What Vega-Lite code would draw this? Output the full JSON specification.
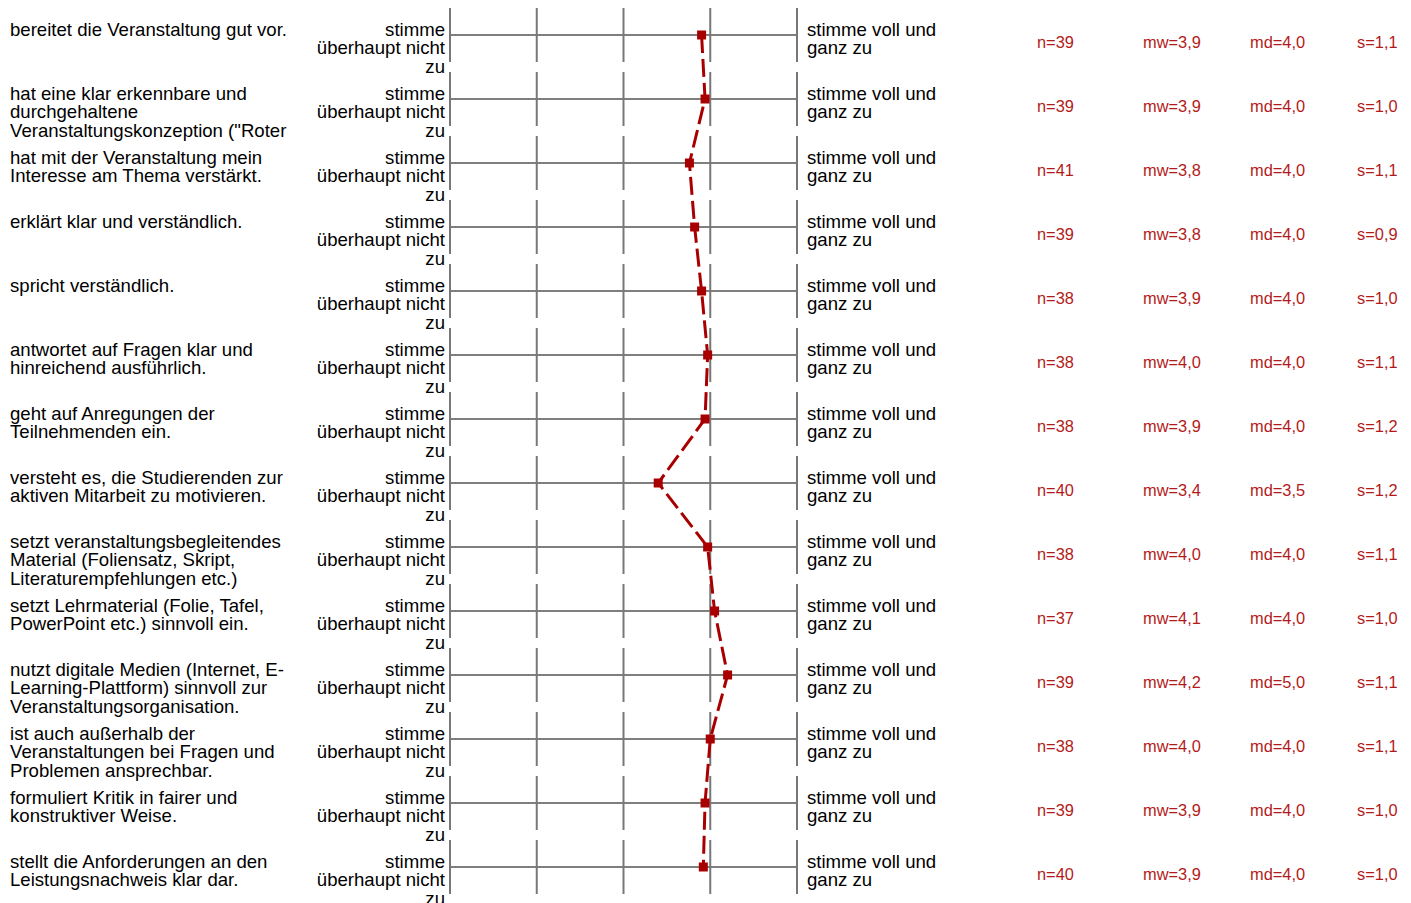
{
  "$schema": "https://vega.github.io/schema/vega-lite/v6.json",
  "width": 1411,
  "height": 903,
  "autosize": {"type": "fit", "contains": "padding"},
  "padding": 0,
  "background": "white",
  "config": {"view": {"stroke": null}},
  "data": {
    "values": [
      {"row": 1, "item": "bereitet die Veranstaltung gut vor.", "mean": 3.90, "n": "n=39", "mw": "mw=3,9", "md": "md=4,0", "s": "s=1,1"},
      {"row": 2, "item": "hat eine klar erkennbare und\ndurchgehaltene\nVeranstaltungskonzeption (\"Roter", "mean": 3.94, "n": "n=39", "mw": "mw=3,9", "md": "md=4,0", "s": "s=1,0"},
      {"row": 3, "item": "hat mit der Veranstaltung mein\nInteresse am Thema verstärkt.", "mean": 3.76, "n": "n=41", "mw": "mw=3,8", "md": "md=4,0", "s": "s=1,1"},
      {"row": 4, "item": "erklärt klar und verständlich.", "mean": 3.82, "n": "n=39", "mw": "mw=3,8", "md": "md=4,0", "s": "s=0,9"},
      {"row": 5, "item": "spricht verständlich.", "mean": 3.90, "n": "n=38", "mw": "mw=3,9", "md": "md=4,0", "s": "s=1,0"},
      {"row": 6, "item": "antwortet auf Fragen klar und\nhinreichend ausführlich.", "mean": 3.97, "n": "n=38", "mw": "mw=4,0", "md": "md=4,0", "s": "s=1,1"},
      {"row": 7, "item": "geht auf Anregungen der\nTeilnehmenden ein.", "mean": 3.94, "n": "n=38", "mw": "mw=3,9", "md": "md=4,0", "s": "s=1,2"},
      {"row": 8, "item": "versteht es, die Studierenden zur\naktiven Mitarbeit zu motivieren.", "mean": 3.40, "n": "n=40", "mw": "mw=3,4", "md": "md=3,5", "s": "s=1,2"},
      {"row": 9, "item": "setzt veranstaltungsbegleitendes\nMaterial (Foliensatz, Skript,\nLiteraturempfehlungen etc.)", "mean": 3.97, "n": "n=38", "mw": "mw=4,0", "md": "md=4,0", "s": "s=1,1"},
      {"row": 10, "item": "setzt Lehrmaterial (Folie, Tafel,\nPowerPoint etc.) sinnvoll ein.", "mean": 4.05, "n": "n=37", "mw": "mw=4,1", "md": "md=4,0", "s": "s=1,0"},
      {"row": 11, "item": "nutzt digitale Medien (Internet, E-\nLearning-Plattform) sinnvoll zur\nVeranstaltungsorganisation.", "mean": 4.20, "n": "n=39", "mw": "mw=4,2", "md": "md=5,0", "s": "s=1,1"},
      {"row": 12, "item": "ist auch außerhalb der\nVeranstaltungen bei Fragen und\nProblemen ansprechbar.", "mean": 4.00, "n": "n=38", "mw": "mw=4,0", "md": "md=4,0", "s": "s=1,1"},
      {"row": 13, "item": "formuliert Kritik in fairer und\nkonstruktiver Weise.", "mean": 3.94, "n": "n=39", "mw": "mw=3,9", "md": "md=4,0", "s": "s=1,0"},
      {"row": 14, "item": "stellt die Anforderungen an den\nLeistungsnachweis klar dar.", "mean": 3.92, "n": "n=40", "mw": "mw=3,9", "md": "md=4,0", "s": "s=1,0"}
    ]
  },
  "encoding": {
    "y": {"field": "item", "type": "ordinal", "sort": null, "axis": null,
          "scale": {"type": "point", "range": [35, 867], "padding": 0}}
  },
  "layer": [
    {"mark": {"type": "rule", "color": "#555555", "strokeWidth": 1.3},
     "encoding": {"x": {"datum": 1, "type": "quantitative", "scale": {"domain": [1, 5], "range": [450, 797]}, "axis": null},
                  "x2": {"datum": 5}}},
    {"mark": {"type": "rule", "color": "#777777", "strokeWidth": 2, "yOffset": -27, "y2Offset": 27},
     "encoding": {"x": {"datum": 1, "type": "quantitative"}, "y2": {"field": "item"}}},
    {"mark": {"type": "rule", "color": "#777777", "strokeWidth": 2, "yOffset": -27, "y2Offset": 27},
     "encoding": {"x": {"datum": 2, "type": "quantitative"}, "y2": {"field": "item"}}},
    {"mark": {"type": "rule", "color": "#777777", "strokeWidth": 2, "yOffset": -27, "y2Offset": 27},
     "encoding": {"x": {"datum": 3, "type": "quantitative"}, "y2": {"field": "item"}}},
    {"mark": {"type": "rule", "color": "#777777", "strokeWidth": 2, "yOffset": -27, "y2Offset": 27},
     "encoding": {"x": {"datum": 4, "type": "quantitative"}, "y2": {"field": "item"}}},
    {"mark": {"type": "rule", "color": "#777777", "strokeWidth": 2, "yOffset": -27, "y2Offset": 27},
     "encoding": {"x": {"datum": 5, "type": "quantitative"}, "y2": {"field": "item"}}},
    {"mark": {"type": "line", "color": "#a80000", "strokeWidth": 3, "strokeDash": [18, 6]},
     "encoding": {"x": {"field": "mean", "type": "quantitative"}, "order": {"field": "row", "type": "quantitative"}}},
    {"mark": {"type": "point", "shape": "square", "filled": true, "opacity": 1, "color": "#a80000", "size": 81},
     "encoding": {"x": {"field": "mean", "type": "quantitative"}}},
    {"mark": {"type": "text", "align": "left", "baseline": "alphabetic", "dy": 1, "lineBreak": "\n", "lineHeight": 18.3, "font": "Liberation Sans", "fontSize": 18.6, "color": "#000000"},
     "encoding": {"x": {"value": 10}, "text": {"field": "item"}}},
    {"mark": {"type": "text", "align": "right", "baseline": "alphabetic", "dy": 1, "lineBreak": "\n", "lineHeight": 18.3, "font": "Liberation Sans", "fontSize": 18.6, "color": "#000000"},
     "encoding": {"x": {"value": 445}, "text": {"value": "stimme\nüberhaupt nicht\nzu"}}},
    {"mark": {"type": "text", "align": "left", "baseline": "alphabetic", "dy": 1, "lineBreak": "\n", "lineHeight": 18.3, "font": "Liberation Sans", "fontSize": 18.6, "color": "#000000"},
     "encoding": {"x": {"value": 807}, "text": {"value": "stimme voll und\nganz zu"}}},
    {"mark": {"type": "text", "align": "left", "baseline": "alphabetic", "dy": 13, "font": "Liberation Sans", "fontSize": 16.4, "color": "#b31b1b"},
     "encoding": {"x": {"value": 1037}, "text": {"field": "n"}}},
    {"mark": {"type": "text", "align": "left", "baseline": "alphabetic", "dy": 13, "font": "Liberation Sans", "fontSize": 16.4, "color": "#b31b1b"},
     "encoding": {"x": {"value": 1143}, "text": {"field": "mw"}}},
    {"mark": {"type": "text", "align": "left", "baseline": "alphabetic", "dy": 13, "font": "Liberation Sans", "fontSize": 16.4, "color": "#b31b1b"},
     "encoding": {"x": {"value": 1250}, "text": {"field": "md"}}},
    {"mark": {"type": "text", "align": "left", "baseline": "alphabetic", "dy": 13, "font": "Liberation Sans", "fontSize": 16.4, "color": "#b31b1b"},
     "encoding": {"x": {"value": 1357}, "text": {"field": "s"}}}
  ]
}
